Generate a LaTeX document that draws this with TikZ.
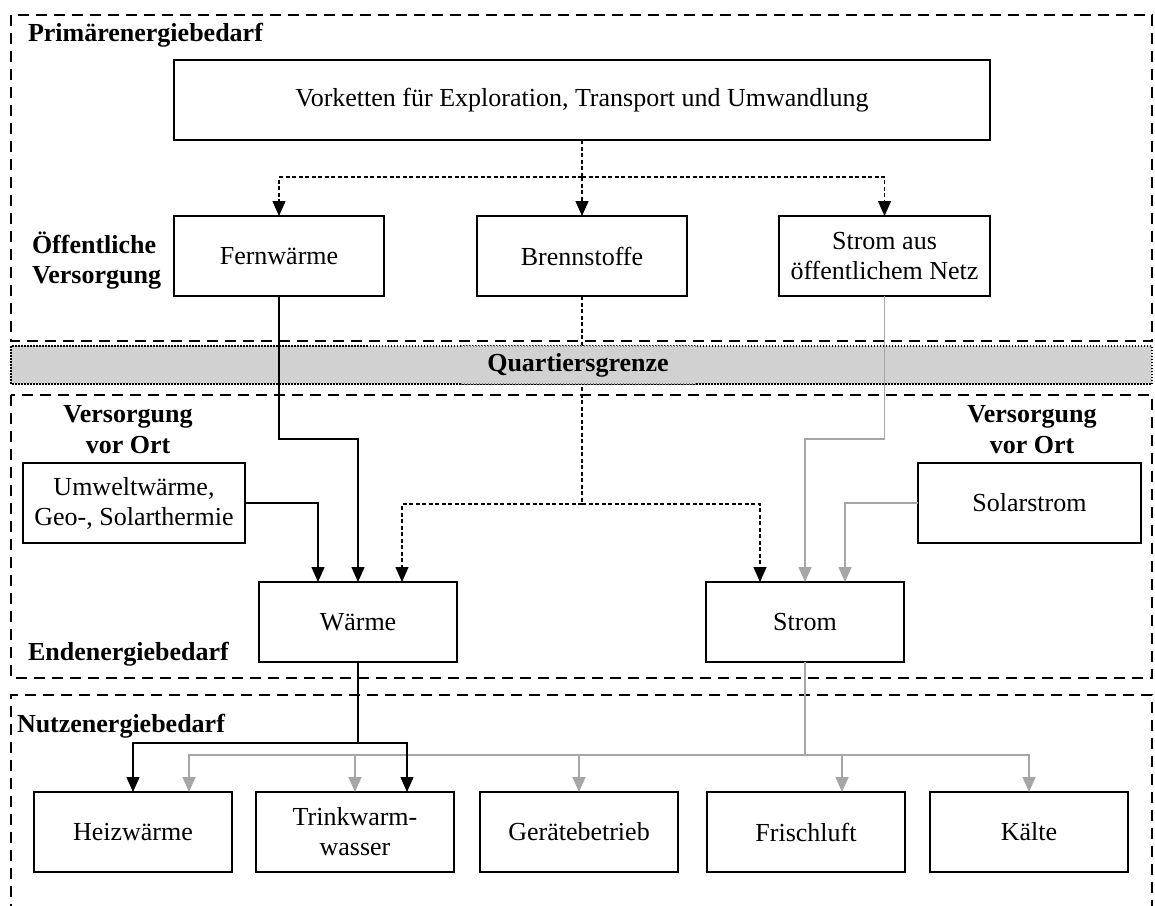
\documentclass[tikz,border=0pt]{standalone}
\usepackage{fontspec}
\setmainfont{Liberation Serif}
\usetikzlibrary{arrows.meta}
\definecolor{linegray}{RGB}{166,166,166}
\definecolor{bandgray}{RGB}{210,209,210}

\begin{document}
\begin{tikzpicture}[x=1pt,y=-1pt,
  font=\fontsize{26}{30}\selectfont,
  every node/.style={inner sep=0pt, outer sep=0pt},
  box/.style={draw, line width=2.8pt, align=center, minimum height=80pt, fill=white},
  area/.style={line width=2.8pt, dash pattern=on 11pt off 7pt},
  lbl/.style={font=\fontsize{26}{30}\selectfont\bfseries},
  wire/.style={line width=1.3pt},
  dwire/.style={line width=1.3pt, dash pattern=on 4pt off 2.5pt},
  gwire/.style={line width=1.6pt, draw=linegray},
  tip/.style={-{Triangle[length=15pt,width=13pt]}},
  dots/.style={line width=1.6pt, dash pattern=on 1.5pt off 1.5pt}
]
\useasboundingbox (0,0) rectangle (1155,905);

% energy levels
\draw[area] (11,15) rectangle (1152,341);
\fill[bandgray] (11,346) rectangle (1152,384);
\draw[dots] (11,346) rectangle (1152,384);
\draw[area] (11,395) rectangle (1152,678);
\draw[area] (11,915) -- (11,695) -- (1152,695) -- (1152,915);

% level labels
\node[lbl, anchor=base west] (lprim) at (28,41) {Primärenergiebedarf};
\node[lbl, anchor=base west] (loeff1) at (32,253) {Öffentliche};
\node[lbl, anchor=base west] (loeff2) at (32,283) {Versorgung};
\node[lbl, anchor=base] (lvl1) at (128,422) {Versorgung};
\node[lbl, anchor=base] (lvl2) at (128,453) {vor Ort};
\node[lbl, anchor=base] (lvr1) at (1032,422) {Versorgung};
\node[lbl, anchor=base] (lvr2) at (1032,453) {vor Ort};
\node[lbl, anchor=base west] (lend) at (28,660) {Endenergiebedarf};
\node[lbl, anchor=base west] (lnutz) at (17,732) {Nutzenergiebedarf};

% primary supply
\node[box, minimum width=816pt] (vork) at (582,100) {Vorketten für Exploration, Transport und Umwandlung};
\node[box, minimum width=210pt] (fernw) at (279,256) {Fernwärme};
\node[box, minimum width=210pt] (brenn) at (582,256) {Brennstoffe};
\node[box, minimum width=211pt] (stromaus) at (884.5,256) {Strom aus\\öffentlichem Netz};

% local supply and final energy
\node[box, minimum width=222pt] (umwelt) at (134,503) {Umweltwärme,\\Geo-, Solarthermie};
\node[box, minimum width=223pt] (solar) at (1029.5,503) {Solarstrom};
\node[box, minimum width=198pt] (waerme) at (358,622) {Wärme};
\node[box, minimum width=198pt] (strom) at (805,622) {Strom};

% useful energy
\node[box, minimum width=198pt] (heiz) at (133,832) {Heizwärme};
\node[box, minimum width=198pt] (trink) at (355,832) {Trinkwarm-\\wasser};
\node[box, minimum width=198pt] (geraet) at (579,832) {Gerätebetrieb};
\node[box, minimum width=198pt] (frisch) at (806,832) {Frischluft};
\node[box, minimum width=198pt] (kaelte) at (1029,832) {Kälte};

% upstream chains
\coordinate (vsplit) at (582,177);
\draw[dwire] (vork.south) -- (vsplit);
\draw[dwire, tip] (vsplit) -| (fernw.north);
\draw[dwire, tip] (vsplit) -- (brenn.north);
\draw[dwire, tip] (vsplit) -| (stromaus.north);

% supply to final energy
\coordinate (bsplit) at (582,504);
\draw[gwire, tip] (stromaus.south) -- ++(0,143) -| (strom.north);
\draw[gwire, tip] (solar.west) -| ([xshift=40pt]strom.north);
\draw[wire, tip] (fernw.south) -- ++(0,143) -| (waerme.north);
\draw[wire, tip] (umwelt.east) -| ([xshift=-40pt]waerme.north);
\draw[dwire] (brenn.south) -- (bsplit);
\draw[dwire, tip] (bsplit) -| ([xshift=44pt]waerme.north);
\draw[dwire, tip] (bsplit) -| ([xshift=-45pt]strom.north);

% final to useful energy
\coordinate (ssplit) at (805,755);
\coordinate (wsplit) at (358,743);
\draw[gwire] (strom.south) -- (ssplit);
\draw[gwire, tip] (ssplit) -| ([xshift=56pt]heiz.north);
\draw[gwire, tip] (ssplit) -| (trink.north);
\draw[gwire, tip] (ssplit) -| (geraet.north);
\draw[gwire, tip] (ssplit) -| ([xshift=36pt]frisch.north);
\draw[gwire, tip] (ssplit) -| (kaelte.north);
\draw[wire] (waerme.south) -- (wsplit);
\draw[wire, tip] (wsplit) -| (heiz.north);
\draw[wire, tip] (wsplit) -| ([xshift=52pt]trink.north);

% district boundary label
\node[lbl, fill=bandgray, minimum width=235pt, minimum height=38pt] (quart) at (578,365) {Quartiersgrenze};
\draw[dots, draw=gray] (quart.north west) -- (quart.north east);
\draw[dots, draw=gray] (quart.south west) -- (quart.south east);
\end{tikzpicture}
\end{document}
